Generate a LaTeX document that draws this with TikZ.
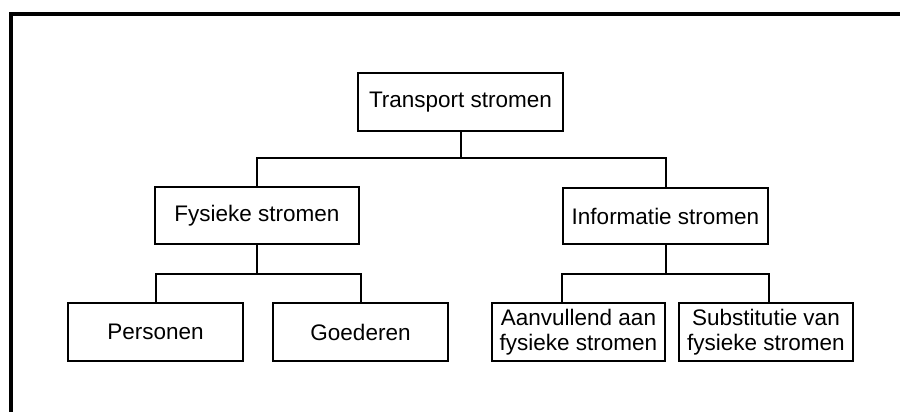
\documentclass[tikz,border=0pt]{standalone}
\usepackage{fontspec}
\setmainfont{Liberation Sans}
\begin{document}
\begin{tikzpicture}[x=1pt,y=-1pt,
  box/.style={draw,line width=2pt,inner sep=0pt,align=center,font=\fontsize{22.5}{25.5}\selectfont},
  conn/.style={line width=2pt},
  frame/.style={line width=4pt}]
\useasboundingbox (0,0) rectangle (900,412);
\coordinate (fc) at (11,412);
\coordinate (fa) at (11,14.5);
\coordinate (fb) at (902,14.5);
\draw[frame] (fc) -- (fa) -- (fb);
\node[box,minimum width=205pt,minimum height=58pt] (T) at (460.5,102) {Transport stromen};
\node[box,minimum width=204pt,minimum height=57pt] (F) at (257,215.5) {Fysieke stromen};
\node[box,minimum width=205pt,minimum height=56pt] (I) at (665.5,216) {Informatie stromen};
\node[box,minimum width=175pt,minimum height=58pt] (P) at (155.5,332) {Personen};
\node[box,minimum width=175pt,minimum height=58pt] (G) at (360.5,332) {Goederen};
\node[box,minimum width=173pt,minimum height=58pt] (A) at (578.5,332) {Aanvullend aan\\fysieke stromen};
\node[box,minimum width=174pt,minimum height=58pt] (S) at (766,332) {Substitutie van\\fysieke stromen};
\coordinate (h1) at (0,158);
\coordinate (h2) at (0,274);
\draw[conn] (T.south) -- (T.south |- h1);
\draw[conn] (F.north) -- (F.north |- h1) -- (I.north |- h1) -- (I.north);
\draw[conn] (F.south) -- (F.south |- h2);
\draw[conn] (P.north) -- (P.north |- h2) -- (G.north |- h2) -- (G.north);
\draw[conn] (I.south) -- (I.south |- h2);
\draw[conn] (I.south west |- A.north) -- (I.south west |- h2) -- (I.south east |- h2) -- (I.south east |- S.north);
\end{tikzpicture}
\end{document}
